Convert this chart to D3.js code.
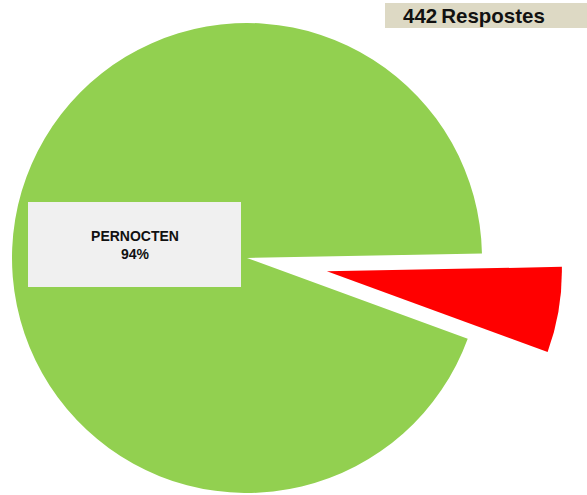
<!DOCTYPE html>
<html>
<head>
<meta charset="utf-8">
<script src="https://cdn.jsdelivr.net/npm/d3@7"></script>
<style>
  html, body { margin: 0; padding: 0; background: #ffffff; }
  svg { display: block; }
</style>
</head>
<body>
<svg id="chart" width="587" height="495"></svg>
<script>
// ---- data ----
const categories = ["NO PERNOCTEN", "PERNOCTEN"];
const counts = [26, 416];
const percentLabels = ["6%", "94%"];
const colors = ["#FF0000", "#92D050"];
const totalLabel = "442";
const totalSuffix = "Respostes";

// ---- layout ----
const W = 587, H = 495;
const cx = 247, cy = 258, R = 235;
const explodeIndex = 0;
const explodeDist = 81;
const startDeg = 88.9;

const svg = d3.select("#chart");

const pie = d3.pie()
  .sort(null)
  .value(d => d)
  .startAngle(startDeg * Math.PI / 180)
  .endAngle(startDeg * Math.PI / 180 + 2 * Math.PI);

const arcs = pie(counts);
const arc = d3.arc().innerRadius(0).outerRadius(R);

const g = svg.append("g").attr("transform", `translate(${cx},${cy})`);

g.selectAll("path.slice")
  .data(arcs)
  .enter().append("path")
  .attr("class", "slice")
  .attr("d", arc)
  .attr("fill", (d, i) => colors[i])
  .attr("transform", (d, i) => {
    if (i !== explodeIndex) return null;
    const mid = (d.startAngle + d.endAngle) / 2;
    const dx = Math.sin(mid) * explodeDist;
    const dy = -Math.cos(mid) * explodeDist;
    return `translate(${dx},${dy})`;
  });

// ---- data label for PERNOCTEN ----
const labelBox = { x: 28, y: 202, w: 213, h: 85 };
const lg = svg.append("g");
lg.append("rect")
  .attr("x", labelBox.x).attr("y", labelBox.y)
  .attr("width", labelBox.w).attr("height", labelBox.h)
  .attr("fill", "#F0F0F0");
const lx = 135;
lg.append("text")
  .attr("x", lx).attr("y", 241)
  .attr("text-anchor", "middle")
  .attr("font-family", "Liberation Sans, Arial, sans-serif")
  .attr("font-weight", "bold")
  .attr("font-size", 14)
  .attr("fill", "#111")
  .text(categories[1]);
lg.append("text")
  .attr("x", lx).attr("y", 258.5)
  .attr("text-anchor", "middle")
  .attr("font-family", "Liberation Sans, Arial, sans-serif")
  .attr("font-weight", "bold")
  .attr("font-size", 14)
  .attr("fill", "#111")
  .text(percentLabels[1]);

// ---- total box ----
svg.append("rect")
  .attr("x", 385).attr("y", 3)
  .attr("width", 202).attr("height", 25)
  .attr("fill", "#DDD9C4");
const t = svg.append("text")
  .attr("x", 403).attr("y", 23)
  .attr("font-family", "Liberation Sans, Arial, sans-serif")
  .attr("font-weight", "bold")
  .attr("font-size", 20.5)
  .attr("fill", "#111");
t.append("tspan").text(totalLabel);
t.append("tspan").attr("dx", 4).text(totalSuffix);
</script>
</body>
</html>
